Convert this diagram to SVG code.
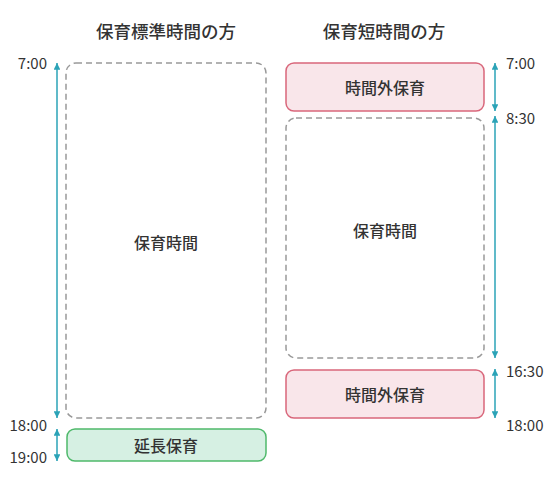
<svg xmlns="http://www.w3.org/2000/svg" width="550" height="500" viewBox="0 0 550 500">
<style>
.title{font-family:"Noto Sans CJK JP","Noto Sans",sans-serif;font-size:17.5px;font-weight:500;fill:#333;text-anchor:middle}
.lbl{font-family:"Noto Sans CJK JP","Noto Sans",sans-serif;font-size:16px;font-weight:500;fill:#333;text-anchor:middle;dominant-baseline:central}
.time{font-family:"Noto Sans CJK JP","Noto Sans",sans-serif;font-size:15px;fill:#333;dominant-baseline:central}
.dash{fill:#fff;stroke:#999;stroke-width:1.5;stroke-dasharray:6 4}
.pink{fill:#f9e6ea;stroke:#d9677b;stroke-width:1.5}
.green{fill:#d6f0e3;stroke:#4fb96b;stroke-width:1.5}
.arr{stroke:#2ba3b7;stroke-width:1.5;fill:none;marker-start:url(#ah);marker-end:url(#ah)}
</style>
<defs>
<marker id="ah" viewBox="0 0 10 10" refX="10" refY="5" markerWidth="4.5" markerHeight="4.5" orient="auto-start-reverse" markerUnits="strokeWidth">
<path d="M0,0 L10,5 L0,10 z" fill="#2ba3b7"/>
</marker>
</defs>
<text class="title" x="166" y="38">保育標準時間の方</text>
<text class="title" x="384" y="38">保育短時間の方</text>
<g id="std-hours">
<rect class="dash" x="66" y="63" width="200" height="355" rx="10"/>
<text class="lbl" x="166" y="242">保育時間</text>
</g>
<g id="extended">
<rect class="green" x="67" y="429" width="199" height="32" rx="8"/>
<text class="lbl" x="166" y="445">延長保育</text>
</g>
<g id="overtime-am">
<rect class="pink" x="286" y="63" width="198" height="48" rx="8"/>
<text class="lbl" x="385" y="87">時間外保育</text>
</g>
<g id="short-hours">
<rect class="dash" x="286" y="118" width="198" height="240" rx="10"/>
<text class="lbl" x="385" y="230">保育時間</text>
</g>
<g id="overtime-pm">
<rect class="pink" x="286" y="370" width="198" height="48" rx="8"/>
<text class="lbl" x="385" y="394">時間外保育</text>
</g>
<g id="connectors">
<line class="arr" x1="57" y1="63" x2="57" y2="418"/>
<line class="arr" x1="57" y1="429" x2="57" y2="461"/>
<line class="arr" x1="495" y1="63" x2="495" y2="111"/>
<line class="arr" x1="495" y1="116" x2="495" y2="358"/>
<line class="arr" x1="495" y1="369" x2="495" y2="418"/>
</g>
<g id="times">
<text class="time" x="47" y="62" text-anchor="end">7:00</text>
<text class="time" x="47" y="424" text-anchor="end">18:00</text>
<text class="time" x="47" y="456" text-anchor="end">19:00</text>
<text class="time" x="506" y="62">7:00</text>
<text class="time" x="506" y="117">8:30</text>
<text class="time" x="506" y="370">16:30</text>
<text class="time" x="506" y="424">18:00</text>
</g>
</svg>
